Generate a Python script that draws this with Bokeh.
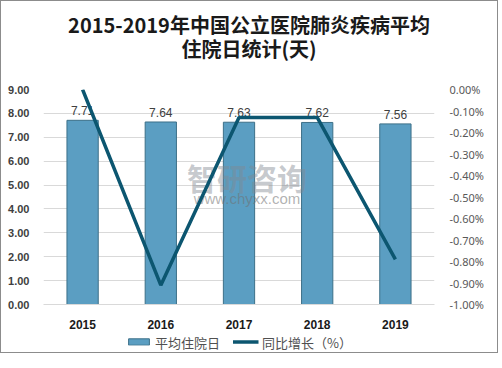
from bokeh.plotting import figure
from bokeh.layouts import column
from bokeh.models import (ColumnDataSource, Range1d, LinearAxis, FixedTicker,
                          NumeralTickFormatter, Legend, LegendItem, Div)
from bokeh.core.properties import value
from bokeh.embed import file_html
from bokeh.resources import INLINE

years = ["2015", "2016", "2017", "2018", "2019"]
avg_days = [7.71, 7.64, 7.63, 7.62, 7.56]
yoy_pct = [0.0, -0.91, -0.13, -0.13, -0.79]
title_line1 = "2015-2019年中国公立医院肺炎疾病平均"
title_line2 = "住院日统计(天)"
bar_label = "平均住院日"
line_label = "同比增长（%）"

BAR_FILL = "#5b9ec2"
BAR_LINE = "#3d7088"
LINE_COLOR = "#0c5670"
W = 486

src = ColumnDataSource(dict(
    x=years, y=avg_days, lbl=["%.2f" % v for v in avg_days],
    pct=[v / 100.0 for v in yoy_pct]))

title = Div(text=('<div style="padding-top:7px;text-align:center;'
                  'font-family:\'Noto Sans CJK SC\';font-size:20px;'
                  'font-weight:bold;line-height:24px;color:#1a1a1a;'
                  'width:%dpx">%s<br>%s</div>' % (W, title_line1, title_line2)),
            width=W, height=70)

p = figure(x_range=years, y_range=Range1d(0, 9), width=W, height=250,
           output_backend="svg", toolbar_location=None, title=None,
           min_border_left=42, min_border_right=44, min_border_top=8,
           min_border_bottom=0)
p.outline_line_color = None

p.extra_y_ranges = {"pct": Range1d(-0.01, 0.0)}

p.vbar(x="x", top="y", width=0.4, source=src, fill_color=BAR_FILL,
       line_color=BAR_LINE, line_width=1)
p.text(x="x", y="y", text="lbl", source=src, text_align="center",
       text_baseline="bottom", y_offset=-5, text_font_size="12px",
       text_color="#404040", text_font=value("Liberation Sans"))

# watermark
p.text(x=["2017"], y=[5.35], text=["智研咨询"], text_align="center",
       text_baseline="middle", text_font_size="30px", text_font_style="bold",
       text_color="#808890", text_alpha=0.45, x_offset=8,
       text_font=value("Noto Sans CJK SC"))
p.text(x=["2017"], y=[4.45], text=["www.chyxx.com"], text_align="center",
       text_baseline="middle", text_font_size="15px",
       text_color="#707070", text_alpha=0.55, x_offset=8,
       text_font=value("Liberation Sans"))

p.line(x="x", y="pct", source=src, y_range_name="pct",
       line_color=LINE_COLOR, line_width=3.5)

p.yaxis.ticker = FixedTicker(ticks=list(range(0, 10)))
p.yaxis.formatter = NumeralTickFormatter(format="0.00")
p.yaxis.axis_line_color = None
p.yaxis.major_tick_line_color = None
p.yaxis.minor_tick_line_color = None
p.yaxis.major_label_text_font = "Liberation Sans"
p.yaxis.major_label_text_font_size = "11px"
p.yaxis.major_label_text_font_style = "bold"
p.yaxis.major_label_text_color = "#404040"
p.yaxis.major_label_standoff = 8

ra = LinearAxis(y_range_name="pct",
                ticker=FixedTicker(ticks=[-i / 1000.0 for i in range(0, 11)]),
                formatter=NumeralTickFormatter(format="0.00%"))
ra.axis_line_color = None
ra.major_tick_line_color = None
ra.minor_tick_line_color = None
ra.major_label_text_font = "Noto Sans"
ra.major_label_text_font_size = "11px"
ra.major_label_text_color = "#595959"
ra.major_label_standoff = 9
p.add_layout(ra, "right")

p.xaxis.axis_line_color = "#d9d9d9"
p.xaxis.major_tick_line_color = None
p.xaxis.minor_tick_line_color = None
p.xaxis.major_label_text_font = "Liberation Sans"
p.xaxis.major_label_text_font_size = "12px"
p.xaxis.major_label_text_font_style = "bold"
p.xaxis.major_label_text_color = "#1a1a1a"
p.xaxis.major_label_standoff = 9

p.xgrid.grid_line_color = None
p.ygrid.grid_line_color = "#d9d9d9"

# legend strip below the chart: same data, drawn out of view, only the legend shows
lf = figure(width=W, height=21, x_range=years, y_range=Range1d(100, 101),
            output_backend="svg", toolbar_location=None, title=None,
            min_border=0, min_border_left=24)
lf.axis.visible = False
lf.grid.visible = False
lf.outline_line_color = None
r_bar = lf.vbar(x="x", top="y", width=0.4, source=src, fill_color=BAR_FILL,
                line_color=BAR_LINE)
r_line = lf.line(x="x", y="y", source=src, line_color=LINE_COLOR,
                 line_width=3.5)
legend = Legend(items=[LegendItem(label=bar_label, renderers=[r_bar]),
                       LegendItem(label=line_label, renderers=[r_line])],
                orientation="horizontal", location="center",
                label_text_font="Noto Sans CJK SC",
                label_text_font_size="13px", label_text_color="#505050",
                glyph_width=26, glyph_height=8, spacing=12, padding=0,
                margin=0, border_line_color=None, background_fill_alpha=0,
                label_standoff=4)
lf.add_layout(legend)

layout = column(title, p, lf, spacing=0)
layout.styles = {"border": "1px solid #8c8c8c"}

open("out.html", "w").write(file_html(layout, INLINE))
